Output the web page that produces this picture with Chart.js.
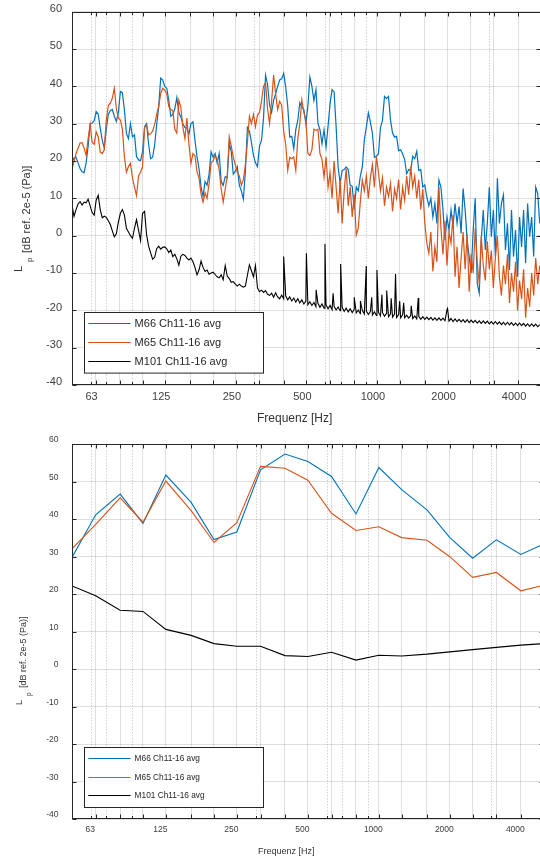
<!DOCTYPE html>
<html>
<head>
<meta charset="utf-8">
<script src="https://cdn.jsdelivr.net/npm/chart.js@4/dist/chart.umd.min.js"></script>
<style>
  html, body { margin: 0; padding: 0; background: #fff; width: 540px; height: 859px; overflow: hidden; }
  #topWrap { position: absolute; left: 0; top: 0; }
  #botWrap { position: absolute; left: 0; top: 430px; }
</style>
</head>
<body>
<div id="topWrap"><canvas id="topChart" width="542" height="430"></canvas></div>
<div id="botWrap"><canvas id="botChart" width="544" height="429"></canvas></div>
<script>
// third-octave band centres (x grid + solid grid lines) and labelled ones
const bandFreqs = [50, 63, 80, 100, 125, 160, 200, 250, 315, 400, 500, 630, 800, 1000, 1250, 1600, 2000, 2500, 3150, 4000, 5000];
const labelFreqs = [63, 125, 250, 500, 1000, 2000, 4000];
const minorFreqs = [60, 70, 90, 300, 600, 700, 900, 3000];
const levelTicks = [-40, -30, -20, -10, 0, 10, 20, 30, 40, 50, 60];
const seriesNames = ['M66 Ch11-16 avg', 'M65 Ch11-16 avg', 'M101 Ch11-16 avg'];
const seriesColors = ['#0072BD', '#D95319', '#000000'];

// narrowband spectrum: 35 bins per octave from 50 Hz
const binsPerOctave = 35;
const nbFreqs = [];
for (let i = 0; i < 233; i++) nbFreqs.push(50 * Math.pow(2, i / binsPerOctave));

const m66Narrow = [
  19.8, 20.8, 21.0, 19.5, 18.0, 17.1, 16.9, 19.5, 24, 30.0,
  30.1, 30.8, 33.2, 32.5, 28.8, 25.6, 23.5, 28.5, 32.5, 33.5,
  33.8, 32.0, 30.6, 33, 38.6, 38.3, 33.7, 27.4, 26, 30,
  26.5, 27, 21.2, 20.3, 20.1, 22.5, 29.2, 30, 24.5, 20.6,
  21.0, 24.3, 29.8, 34.5, 42.2, 41.7, 40, 39.5, 36.3, 32,
  32.5, 34, 37, 33, 31.8, 30.0, 29, 28.8, 27.2, 30,
  30.5, 25.5, 21.2, 18, 13.1, 10.5, 14.5, 13.5, 16.5, 22.5,
  21, 22, 19.5, 22, 14.5, 13.5, 15.8, 15.5, 24.7, 22.5,
  16.5, 17.2, 18.5, 13.5, 12.0, 9.8, 17.2, 29, 28, 25,
  21.5, 19.5, 18.5, 24, 25.5, 31.5, 43, 40.5, 35,
  33, 36.3, 38, 40, 41.7, 42,
  43.5, 39.8, 34.7, 26.4, 26.6, 23.3, 28.4, 30.9, 35.6, 34.4,
  33.8, 30, 34.7, 42.5, 40, 36.2, 39.1, 30, 28.4, 24.6,
  28.4, 23.7, 29.3, 35.3, 39.1, 38.5, 29.3,
  18.4, 14.1, 17.5, 17.7, 18.4, 17.7, 13.5, 13.2, 7, 13,
  12, 15.9, 18.4, 25.7, 29.1, 32.9, 30.4, 27.5, 21, 21.3,
  21.9, 28.9, 30.9, 37.3, 36.7, 37.3, 30.9, 27.5, 26.4, 26.6,
  22.8, 23, 21.9, 20.4, 16.6, 17.7, 17.5, 21.3, 20.6, 22.6,
  17.5, 17.7, 13, 13.6, 10.3,
  8, 10, 5, 8.6, 3.3, 14.9, 13, 6.9, -1.2, 5,
  1.5, 6.9, 2.4, 8.6, 3.3, 7.8, 0.6, 12.6, 6.9, -1.2,
  -5.6, -10, 1.5, 10, -12.8, -15.4, -1.2, 6.9, -3.8, 3.3,
  13, -0.3, 6.9, -5.6, 15.4, 3.3, 8.6, 10.9, -3.8, 3.3,
  -9.2, 6.9, -5.6, 1.5, -11, 5, -3, 6.9, -7.4, 8.6,
  -0.3, 5, -5.6, 13, 11.3, 3.3
];

const m65Narrow = [
  18, 19.8, 22, 23.4, 24.8, 24.9, 23.5, 21.5, 26, 29.8,
  25, 24.5, 27.8, 26.5, 22.4, 22, 23, 31, 34.8, 35.5,
  36.8, 39.5, 34, 31.5, 31, 28.5, 21, 17, 18.5, 19.4,
  15.5, 13, 10.7, 16, 17, 18.5, 29, 29.5, 27, 27.3,
  28, 29.8, 32.5, 34.6, 38.1, 39.5, 39, 38, 34.6, 33.8,
  33.5, 28.5, 27.5, 36.3, 34.4, 29, 26, 31.5, 24.5, 19.4,
  22, 21.4, 17.1, 15.5, 11.2, 9, 11.5, 10, 14, 19.5,
  20, 21.5, 20.5, 17.6, 12.5, 9, 12.5, 15.8, 26.5, 24,
  21, 19, 17, 16, 13.5, 15, 19, 25, 32, 30,
  32.5, 29.2, 32.3, 33, 36, 40, 41, 34, 30,
  36, 43, 38, 33.8, 36, 35, 28, 24.5, 17.5, 21,
  20.6, 21.1, 17.5, 26, 30, 36.4, 33, 31, 22, 21.5,
  23, 28.5, 28.2, 28.5, 22, 20.4, 15.7, 21.1, 13, 16.8,
  10, 20, 13,
  6, 15, 3.3, 12, 18, 8, 13, 5, 11, 0.2,
  2, 9, 14.9, 12, 16, 10, 15.5, 19, 13, 21.2,
  17, 12, 15.5, 8, 13, 10.5, 14, 6.5, 12.5, 10,
  15, 7, 13, 9.5, 16, 11, 18.5, 13, 16, 10,
  15, 7, 12.5, 3.3, -2, -4.7, 1, -9.6, -3, -7,
  13, 2, -5, 4, -8, 1, -2, 5.5, -11, -3,
  -14, -6, 1, -9, 0.5, -15, -5, -10, 2, -7,
  -13, 0, -8, -12, -1.5, -9, -4, -14, -6, 0,
  -11, -16, -8, -13, -5, -18, -10, -15, -7, -20,
  -12, -17, -9, -22, -14, -19, -10, -16, -6, -13,
  -8
];

const m101Narrow = [
  8.2, 5.2, 7, 8.5, 9.1, 8.2, 9.0, 8.8, 9.8, 8,
  6.2, 5.5, 9.5, 10.8, 7, 4.8, 5.2, 4.9, 4, 3,
  1.3, -0.3, 0.5, 3.7, 6, 7, 5.5, 2, 1, 0,
  -0.7, 2, 4.3, 1.5, -1.3, 6, 6.5, 0.2, -2.8, -4.6,
  -6.3, -5.8, -3.5, -2.8, -3.6, -3.1, -3, -3.5, -4.5, -3.8,
  -5.6, -5, -6.2, -7.9, -5.5, -5, -5.3, -6, -6.5, -6,
  -7, -8.5, -10.5, -9.2, -6.8, -8.5, -9.6, -9.2, -10.3, -10,
  -9.8, -10.4, -11, -11.3, -10.5, -11.8, -8, -10.8, -11.5, -12.5,
  -12.3, -13, -13.5, -13, -13.5, -13.8, -13.5, -10.6, -7.8, -9.4,
  -11, -8, -14, -15, -14.6, -15.2, -14.7, -15.7, -16,
  -15.4, -16.5, -15.3, -16.4, -16.9, -15.9, -16.9, -16.1, -17.2, -16.4,
  -17.5, -16.7, -17.8, -16.9, -18, -17.2, -18.3, -17.5, -18.5, -17.7,
  -18.7, -17.9, -19, -18.1, -19.2, -18.3, -19.4, -18.5, -19.6, -18.7,
  -19.8, -18.9, -19.9, -19.1, -20.1, -19.2, -20.3, -19.4, -20.4, -19.6,
  -20.6, -19.7, -20.7, -19.9, -20.9, -20, -21, -20.2, -21.1, -20.3,
  -21.3, -20.4, -21.4, -20.5, -21.5, -20.6, -21.6, -20.8, -21.7, -20.9,
  -21.8, -21, -21.9, -21.1, -22, -21.2, -22, -21.3, -22.1, -21.4,
  -22.2, -21.5, -22.3, -21.6, -22.4, -21.7, -22.4, -21.8, -22.5, -21.9,
  -22.6, -22, -22.7, -22, -22.7, -22.1, -22.8, -19.8, -22.9, -22.2,
  -23, -22.3, -23, -22.4, -23.1, -22.5, -23.2, -22.5, -23.3, -22.6,
  -23.3, -22.7, -23.4, -22.8, -23.5, -22.8, -23.5, -22.9, -23.6, -23,
  -23.7, -23, -23.7, -23.1, -23.8, -23.2, -23.9, -23.2, -23.9, -23.3,
  -24, -23.4, -24.1, -23.4, -24.1, -23.5, -24.2, -23.6, -24.3, -23.6,
  -24.3, -23.7, -24.4, -23.8
];

// machine tones in M101 narrowband
const m101ToneFreqs = [400, 500, 550, 600, 650, 700, 800, 850, 900, 950, 1000, 1050, 1100, 1150, 1200, 1250, 1300, 1400, 1500, 2000];
const m101ToneLevels = [-5.6, -4.7, -14.5, -2.2, -15.4, -7.6, -16.5, -17.5, -8.1, -16.5, -9.2, -15.8, -14.7, -16.8, -10.3, -17.5, -18, -18.8, -16.7, -19.5];

// third-octave band levels
const m66Third = [29.8, 41.2, 46.7, 38.9, 51.8, 44.5, 34.6, 36.6, 53.2, 57.4, 55.4, 51.4, 41.4, 53.8, 47.9, 42.5, 35.1, 29.6, 34.5, 30.6, 33.4];
const m65Third = [32.1, 38.6, 45.7, 39.2, 50.2, 42.3, 33.8, 39.1, 54.1, 53.6, 50.4, 41.6, 37.0, 38.0, 35.1, 34.4, 30.0, 24.5, 25.8, 20.9, 22.4];
const m101Third = [22.2, 19.6, 15.7, 15.4, 10.6, 9.0, 6.8, 6.1, 6.1, 3.6, 3.35, 4.5, 2.4, 3.7, 3.5, 4.0, 4.6, 5.2, 5.8, 6.4, 6.8];

const FONT = '"Liberation Sans", Arial, Helvetica, sans-serif';
const GRID = 'rgba(38,38,38,0.15)';
const NONE = 'rgba(0,0,0,0)';

function pts(xs, ys) { return xs.map((f, i) => ({ x: f, y: ys[i] })); }

const m101Points = pts(nbFreqs, m101Narrow)
  .concat(pts(m101ToneFreqs, m101ToneLevels))
  .sort((p, q) => p.x - q.x);

function decor(cfg) {
  return {
    id: 'decor',
    beforeDatasetsDraw(chart) {
      const { ctx, chartArea: a, scales: { x } } = chart;
      ctx.save();
      ctx.strokeStyle = 'rgba(38,38,38,0.3)';
      ctx.lineWidth = 1;
      ctx.setLineDash([1, 2]);
      minorFreqs.forEach(f => {
        const px = Math.round(x.getPixelForValue(f)) + 0.5;
        ctx.beginPath(); ctx.moveTo(px, a.top); ctx.lineTo(px, a.bottom); ctx.stroke();
      });
      ctx.restore();
    },
    afterDraw(chart) {
      const { ctx, chartArea: a, scales: { x, y } } = chart;
      const L = Math.round(a.left) + 0.5, R = Math.round(a.right) - 0.5;
      const T = Math.round(a.top) + 0.5, B = Math.round(a.bottom) - 0.5;
      ctx.save();
      ctx.strokeStyle = '#262626';
      ctx.lineWidth = 1;
      ctx.strokeRect(L, T, R - L, B - T);
      ctx.beginPath();
      bandFreqs.forEach(f => {
        const px = Math.round(x.getPixelForValue(f)) + 0.5;
        ctx.moveTo(px, B); ctx.lineTo(px, B - 4);
        ctx.moveTo(px, T); ctx.lineTo(px, T + 4);
      });
      minorFreqs.forEach(f => {
        const px = Math.round(x.getPixelForValue(f)) + 0.5;
        ctx.moveTo(px, B); ctx.lineTo(px, B - 2.5);
        ctx.moveTo(px, T); ctx.lineTo(px, T + 2.5);
      });
      levelTicks.forEach(v => {
        const py = Math.round(y.getPixelForValue(v)) + 0.5;
        ctx.moveTo(L, py); ctx.lineTo(L + 4, py);
        ctx.moveTo(R, py); ctx.lineTo(R - 4, py);
      });
      ctx.stroke();

      // legend box
      const lg = cfg.legend;
      const lx = a.left + lg.dx, ly = a.bottom - lg.dy;
      ctx.fillStyle = '#fff';
      ctx.fillRect(lx, ly, lg.w, lg.h);
      ctx.strokeStyle = '#262626';
      ctx.strokeRect(Math.round(lx) + 0.5, Math.round(ly) + 0.5, lg.w, lg.h);
      ctx.font = lg.size + 'px ' + FONT;
      ctx.textBaseline = 'middle';
      ctx.textAlign = 'left';
      chart.data.datasets.forEach((ds, k) => {
        const yy = Math.round(ly + lg.first + k * lg.step) + 0.5;
        ctx.strokeStyle = ds.borderColor;
        ctx.lineWidth = 1.2;
        ctx.beginPath(); ctx.moveTo(lx + 4.7, yy); ctx.lineTo(lx + 47, yy); ctx.stroke();
        ctx.fillStyle = '#262626';
        ctx.fillText(ds.label, lx + 51, yy);
      });

      // x axis title
      ctx.fillStyle = '#333';
      ctx.font = cfg.xTitleSize + 'px ' + FONT;
      ctx.textBaseline = 'middle';
      ctx.fillText('Frequenz [Hz]', a.left + cfg.xTitleDx, a.bottom + cfg.xTitleDy);

      // y axis title L_p [dB ref. 2e-5 (Pa)]
      const yl = cfg.yLabel;
      const put = (txt, size, bx, by) => {
        ctx.save();
        ctx.translate(bx, by);
        ctx.rotate(-Math.PI / 2);
        ctx.font = size + 'px ' + FONT;
        ctx.textBaseline = 'alphabetic';
        ctx.textAlign = 'left';
        ctx.fillText(txt, 0, 0);
        ctx.restore();
      };
      put('L', yl.size, yl.lX, a.bottom - yl.lY);
      put('p', yl.subSize, yl.pX, a.bottom - yl.pY);
      put('[dB ref. 2e-5 (Pa)]', yl.size, yl.tX, a.bottom - yl.tY);
      ctx.restore();
    }
  };
}

function makeChart(id, datasets, cfg) {
  return new Chart(document.getElementById(id), {
    type: 'line',
    data: { datasets },
    options: {
      responsive: false,
      devicePixelRatio: 1,
      animation: false,
      events: [],
      layout: { padding: { top: cfg.padTop, right: cfg.padRight, left: 0, bottom: 0 } },
      elements: { point: { radius: 0 }, line: { tension: 0 } },
      plugins: { legend: { display: false }, tooltip: { enabled: false } },
      scales: {
        x: {
          type: 'logarithmic',
          min: 50,
          max: 5000,
          afterBuildTicks: s => { s.ticks = bandFreqs.map(v => ({ value: v })); },
          afterFit: s => { s.height = cfg.xAxisH; },
          grid: { color: GRID, lineWidth: 1, drawTicks: true, tickLength: cfg.xTickGap, tickColor: NONE },
          border: { display: false },
          ticks: {
            autoSkip: false, maxRotation: 0, minRotation: 0,
            padding: 0,
            labelOffset: cfg.xLabelShift,
            color: '#404040',
            font: { family: FONT, size: cfg.tickSize },
            callback: v => labelFreqs.includes(v) ? String(v) : ''
          }
        },
        y: {
          type: 'linear',
          min: -40,
          max: 60,
          afterBuildTicks: s => { s.ticks = levelTicks.map(v => ({ value: v })); },
          afterFit: s => { s.width = 72; },
          grid: { color: GRID, lineWidth: 1, drawTicks: true, tickLength: cfg.yTickGap, tickColor: NONE },
          border: { display: false },
          ticks: {
            padding: 0,
            labelOffset: cfg.yLabelShift,
            color: '#404040',
            font: { family: FONT, size: cfg.tickSize }
          }
        }
      }
    },
    plugins: [decor(cfg)]
  });
}

makeChart('topChart', [
  { label: seriesNames[0], data: pts(nbFreqs, m66Narrow), borderColor: seriesColors[0], borderWidth: 1.2, order: 2 },
  { label: seriesNames[1], data: pts(nbFreqs, m65Narrow), borderColor: seriesColors[1], borderWidth: 1.2, order: 1 },
  { label: seriesNames[2], data: m101Points, borderColor: seriesColors[2], borderWidth: 1.1, order: 0 }
], {
  padTop: 11.7, padRight: 1.2, xAxisH: 45, xTickGap: 5, yTickGap: 10, tickSize: 11,
  xLabelShift: -4, yLabelShift: -2.7,
  legend: { dx: 11.6, dy: 73.3, w: 179, h: 60.6, first: 11.3, step: 19, size: 11 },
  xTitleSize: 12, xTitleDx: 185, xTitleDy: 34,
  yLabel: { size: 11, subSize: 8, lX: 22, lY: 113, pX: 32, pY: 123, tX: 29.5, tY: 132 }
});

makeChart('botChart', [
  { label: seriesNames[0], data: pts(bandFreqs, m66Third), borderColor: seriesColors[0], borderWidth: 1.1, order: 2 },
  { label: seriesNames[1], data: pts(bandFreqs, m65Third), borderColor: seriesColors[1], borderWidth: 1.1, order: 1 },
  { label: seriesNames[2], data: pts(bandFreqs, m101Third), borderColor: seriesColors[2], borderWidth: 1.1, order: 0 }
], {
  padTop: 14.3, padRight: 0.3, xAxisH: 40, xTickGap: 6, yTickGap: 13.5, tickSize: 8.5,
  xLabelShift: -5.5, yLabelShift: -4.3,
  legend: { dx: 11.6, dy: 72.3, w: 179, h: 60, first: 11, step: 18.8, size: 8.3 },
  xTitleSize: 9, xTitleDx: 186, xTitleDy: 32.7,
  yLabel: { size: 9, subSize: 6.5, lX: 22, lY: 114, pX: 31, pY: 123, tX: 25.5, tY: 131 }
});
</script>
</body>
</html>
